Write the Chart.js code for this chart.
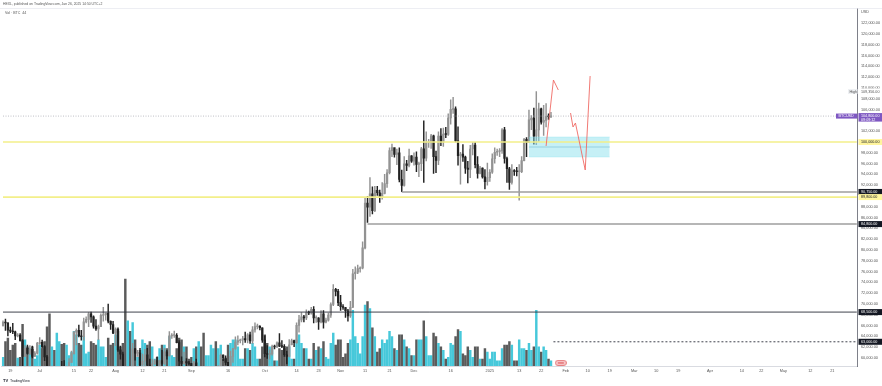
<!DOCTYPE html>
<html>
<head>
<meta charset="utf-8">
<script src="https://cdn.jsdelivr.net/npm/chart.js@4.4.0/dist/chart.umd.min.js"></script>
<style>
  html, body { margin: 0; padding: 0; background: #fff; }
</style>
</head>
<body>
<canvas id="chart" width="882" height="386"></canvas>
<script>
// ---- BTC daily, Jun 16 2024 .. Jan 26 2025 (axis runs to May 31 2025) ----
const START_DATE = '2024-06-16';
const END_DATE = '2025-05-31';
const FIRST_OPEN = 66000;

// daily closes (one line per month)
const closes = [
  66600,66500,65150,64950,64850,64100,64250,63200,60300,61800,60850,61600,60300,60900,62700,
  62900,62100,60200,57000,56600,58200,55850,56700,58000,57700,57300,57900,59200,60800,64800,65100,64100,63950,66700,67150,68200,67600,65900,65400,65800,67900,68000,68250,66800,66200,64600,
  65350,61500,60700,58100,54000,56000,55100,61700,60900,60900,58700,59400,60600,58700,57550,58900,59500,58450,59500,59000,61150,60400,64100,64200,64200,62850,59400,59000,59350,59100,58950,
  57300,59100,57450,57950,56150,53950,54150,54800,57000,57650,57350,58100,60550,60000,59200,58200,60300,61750,62950,63200,63350,63600,63350,64300,63150,65200,65800,65850,65600,63300,
  60800,60650,60750,62100,62050,62800,62200,62150,60600,60300,62450,63200,62850,66050,67050,67600,67400,68400,68350,69000,67400,67400,66700,68200,66650,67000,67950,69900,72700,72350,70250,
  69500,69350,68750,67800,69400,75600,75900,76550,76700,80400,88700,87950,90400,87300,91050,90600,89850,90500,92300,94300,98400,98950,97700,98000,93050,91950,95950,95650,97450,96450,
  97200,95850,96000,98750,97000,99900,99900,101150,97300,96600,101100,100000,101450,101400,104450,106050,106150,100200,97450,97750,97200,95150,94900,98700,99450,95800,94200,95150,93550,92650,93400,
  94400,96900,98100,98250,98350,102250,96950,95050,92500,94700,94550,94500,94500,96550,100500,99950,104100,104450,101100,102250,106150,103650,104000,104750,104700,104800
];
const highs = [
  66900,67200,66500,65700,66400,65000,64500,64500,63400,62300,62400,62300,62200,61200,62900,
  63800,63300,62300,60500,57500,58500,58400,58200,58300,59400,59500,58500,59900,61300,64900,65400,66100,65100,67400,67600,68400,68500,67800,67100,66100,68200,69400,68300,70000,66900,66800,
  65600,65600,62200,61100,58300,57000,57700,62700,61800,61400,61800,60700,61600,61800,59800,59800,59700,60200,59600,61400,61800,61400,64900,64500,65000,64500,63200,60200,61100,59900,59400,
  59000,59400,59800,58500,58300,57000,54800,55300,58100,58000,57900,58600,60700,60600,60400,59200,61300,61800,63900,64100,63500,64000,64800,64500,64800,65800,66500,66300,66000,65600,
  64100,62300,61500,62400,62400,63000,64500,63200,62500,61300,63400,63500,63300,66500,67900,68400,67900,68900,68700,69400,69500,67800,67500,68800,68800,67400,68300,70200,73600,72900,72700,
  71600,69900,69400,69000,70500,76400,76900,77200,76900,81500,89600,89950,93400,91700,91800,91800,91100,92500,94000,94900,98900,99600,98800,98700,98900,94800,97300,96600,98700,97500,
  98000,98200,96300,99000,103900,101900,100500,101400,101300,98300,101900,102500,102600,102700,105200,107800,108250,106500,102800,98100,99500,97400,96400,99400,99900,99900,97300,95500,95200,94900,96100,
  94900,97800,98900,98700,98800,102500,102700,97200,95300,95800,94900,95300,95800,97300,100700,100800,105900,104900,106300,109350,107200,106300,106800,107100,105200,105500
];
const lows = [
  65900,65100,64100,64700,64500,63400,63900,63100,58500,60300,60700,60600,60000,60300,60700,
  62500,61800,59500,56800,53500,56000,55700,54300,56300,57100,57000,56600,57800,59200,60700,62400,63900,63300,63300,66500,65800,66600,65500,65100,63400,65800,66800,67000,66500,65300,64500,
  62300,61200,59800,57200,49000,54000,54600,54800,59600,60300,58400,57700,58500,58400,56100,57100,58800,58400,57900,58600,58800,59800,60400,63600,63800,62800,58100,57900,58800,57800,58700,
  57200,57100,57400,55600,55700,52550,53700,53600,54600,56400,55500,57300,57600,59500,58700,57500,57600,59200,61600,62400,62800,62400,62900,62800,62700,62700,64800,65400,65200,62900,
  60200,59900,59800,60500,61700,61900,62100,61900,60300,58900,60200,62400,62100,62700,64800,66700,66700,67100,68000,68100,66500,66600,65300,66500,65500,66500,66800,67500,69700,71500,69700,
  68800,69000,67500,66800,67500,69300,74600,75600,75900,76500,80200,85100,86200,86700,87100,90100,88800,89400,90400,91600,94100,97300,97200,95800,92600,90800,91800,94700,95400,96200,
  95700,94500,93600,94700,92500,96500,99000,98800,94200,94300,95800,99300,99200,100800,101200,103300,105300,100000,95700,92200,96400,94200,92400,93400,97600,95200,93300,94100,93300,91300,92000,
  92700,94200,96100,97500,97300,97900,96100,92500,91200,92200,93800,93700,89250,94300,96500,97300,99900,102300,99600,99500,100100,103300,101200,102800,104200,104500
];
// volume (relative units)
const volumes = [
  10,28,32,18,24,26,9,10,48,30,22,20,22,8,12,
  24,20,28,45,60,22,18,38,28,25,26,24,12,16,40,36,26,24,34,14,16,28,26,24,30,22,22,10,32,24,26,
  36,40,22,26,100,52,40,50,30,10,18,30,26,24,28,22,8,10,20,24,24,20,34,12,10,20,32,30,22,22,8,
  10,20,22,28,22,38,12,12,24,20,28,20,24,8,8,24,26,30,30,22,8,8,20,20,18,26,22,8,8,22,
  36,26,22,20,6,6,20,18,20,22,22,8,8,30,36,26,20,20,8,8,26,18,22,20,28,10,8,26,38,24,30,
  30,10,14,26,30,64,34,26,14,34,70,74,66,44,34,16,20,30,26,30,40,34,20,18,36,36,30,22,20,12,
  12,30,30,30,52,34,12,12,38,34,26,22,18,8,10,26,24,34,42,40,14,12,22,18,10,22,22,8,8,20,16,
  8,16,16,6,6,20,24,24,28,24,6,6,30,20,20,18,26,18,22,64,22,16,22,18,8,6
];

// time axis labels
const tickDates = ['2024-06-19','2024-07-01','2024-07-15','2024-07-22','2024-08-01','2024-08-12','2024-08-21',
  '2024-09-01','2024-09-16','2024-10-01','2024-10-14','2024-10-23','2024-11-01','2024-11-11','2024-11-21',
  '2024-12-01','2024-12-16','2025-01-01','2025-01-13','2025-01-22','2025-02-01','2025-02-10','2025-02-19',
  '2025-03-01','2025-03-10','2025-03-19','2025-04-01','2025-04-14','2025-04-22','2025-05-01','2025-05-12','2025-05-21'];
const tickTexts = ['19','Jul','15','22','Aug','12','21','Sep','16','Oct','14','23','Nov','11','21',
  'Dec','16','2025','13','22','Feb','10','19','Mar','10','19','Apr','14','22','May','12','21'];

// price axis labels
const priceTicks = [60000,62000,64000,66000,68000,70000,72000,74000,76000,78000,80000,82000,84000,86000,
  88000,90000,92000,94000,96000,98000,100000,102000,104000,106000,108000,110000,112000,114000,116000,
  118000,120000,122000,124000];

// horizontal levels
const levelValues = [100000, 90750, 89800, 84800, 68500, 63000];
const levelStarts = ['2024-06-16', '2024-11-26', '2024-06-16', '2024-11-12', '2024-06-16', '2025-01-27'];
const levelColors = ['#f3ef8a', '#9e9e9e', '#f3ef8a', '#9e9e9e', '#2a2e39', '#2a2e39'];
const levelBadgeBg = ['#fff59d', '#131722', '#fff59d', '#131722', '#131722', '#131722'];
const levelBadgeFg = ['#131722', '#ffffff', '#131722', '#ffffff', '#ffffff', '#ffffff'];
const lastPrice = 104800;
const lastCountdown = '09:09:12';
const highValue = 109356;

// cyan zone
const zoneStart = '2025-01-17';
const zoneEnd = '2025-02-19';
const zoneTop = 100926;
const zoneMid = 99074;
const zoneBottom = 97222;

// red projection paths
const pathADates = ['2025-01-24', '2025-01-27', '2025-01-29'];
const pathAPrices = [99260, 111480, 109630];
const pathBDates = ['2025-02-03', '2025-02-04', '2025-02-05', '2025-02-09', '2025-02-11'];
const pathBPrices = [105370, 102780, 103520, 94815, 112220];

// event marker
const eventDate = '2025-01-30';
const eventPrice = 59100;

// price range
const Y_MIN = 58515;
const Y_MAX = 124817;

// ---------- build ----------
const labels = [];
(function () {
  const d = new Date(START_DATE + 'T00:00:00Z');
  const end = new Date(END_DATE + 'T00:00:00Z');
  while (d <= end) {
    labels.push(d.toISOString().slice(0, 10));
    d.setUTCDate(d.getUTCDate() + 1);
  }
})();

const opens = closes.map((c, i) => (i === 0 ? FIRST_OPEN : closes[i - 1]));
const isUp = closes.map((c, i) => c >= opens[i]);

const UP = '#939393', DOWN = '#222222';
const VOL_UP = 'rgba(38,190,212,0.85)', VOL_DOWN = 'rgba(50,50,50,0.8)';

const bodies = labels.map((l, i) => (i < closes.length ? [opens[i], closes[i]] : null));
const wicks = labels.map((l, i) => (i < closes.length ? [lows[i], highs[i]] : null));
const vols = labels.map((l, i) => (i < volumes.length ? volumes[i] : null));
const candleColors = labels.map((l, i) => (isUp[i] ? UP : DOWN));
const volColors = labels.map((l, i) => (isUp[i] ? VOL_UP : VOL_DOWN));

const tickMap = {};
tickDates.forEach((d, i) => { tickMap[d] = tickTexts[i]; });

function hline(from, to, value, color, width, dash, order) {
  return {
    type: 'line',
    data: [{ x: from, y: value }, { x: to, y: value }],
    borderColor: color, borderWidth: width, borderDash: dash || [],
    pointRadius: 0, fill: false, order: order, yAxisID: 'y'
  };
}

function fmt(v) {
  return v.toLocaleString('en-US', { minimumFractionDigits: 2, maximumFractionDigits: 2 });
}

// event pill marker
const pill = document.createElement('canvas');
pill.width = 12; pill.height = 6;
(function () {
  const p = pill.getContext('2d');
  p.fillStyle = '#f9c9cc';
  p.strokeStyle = '#e06666';
  p.lineWidth = 0.8;
  p.beginPath();
  p.roundRect(0.5, 0.5, 11, 5, 2.5);
  p.fill(); p.stroke();
  p.fillStyle = '#d84343';
  p.fillRect(3, 2.5, 6, 1);
})();

const datasets = [];

// levels
levelValues.forEach((v, i) => {
  const dash = i === 5 ? [2, 2] : [];
  const w = (levelColors[i] === '#f3ef8a') ? 1.6 : (levelColors[i] === '#9e9e9e' ? 1.5 : 0.9);
  datasets.push(hline(levelStarts[i], END_DATE, v, levelColors[i], w, dash, 2));
});
// last price dotted line
datasets.push(hline(START_DATE, END_DATE, lastPrice, '#a3a6af', 0.7, [1, 1.5], 2));

// zone
datasets.push({
  type: 'line',
  data: [{ x: zoneStart, y: zoneTop }, { x: zoneEnd, y: zoneTop }],
  borderColor: 'rgba(128,222,234,0.6)', borderWidth: 0.5,
  backgroundColor: 'rgba(128,222,234,0.45)', fill: '+1', pointRadius: 0, order: 3, yAxisID: 'y'
});
datasets.push({
  type: 'line',
  data: [{ x: zoneStart, y: zoneBottom }, { x: zoneEnd, y: zoneBottom }],
  borderColor: 'rgba(128,222,234,0.6)', borderWidth: 0.5, fill: false, pointRadius: 0, order: 3, yAxisID: 'y'
});
datasets.push(hline(zoneStart, zoneEnd, zoneMid, 'rgba(70,130,170,0.8)', 0.6, [], 3));

// projections
datasets.push({
  type: 'line',
  data: pathADates.map((d, i) => ({ x: d, y: pathAPrices[i] })),
  borderColor: '#ef6a64', borderWidth: 0.9, pointRadius: 0, fill: false, order: 1, yAxisID: 'y'
});
datasets.push({
  type: 'line',
  data: pathBDates.map((d, i) => ({ x: d, y: pathBPrices[i] })),
  borderColor: '#ef6a64', borderWidth: 0.9, pointRadius: 0, fill: false, order: 1, yAxisID: 'y'
});

// event marker
datasets.push({
  type: 'line',
  data: [{ x: eventDate, y: eventPrice }],
  showLine: false, pointStyle: pill, pointRadius: 5, order: 0, yAxisID: 'y'
});

// candles
datasets.push({
  type: 'bar', data: wicks, backgroundColor: candleColors, barThickness: 0.8,
  grouped: false, borderWidth: 0, minBarLength: 0.5, order: 5, yAxisID: 'y'
});
datasets.push({
  type: 'bar', data: bodies, backgroundColor: candleColors, barThickness: 1.6,
  grouped: false, borderWidth: 0, minBarLength: 0.8, order: 5, yAxisID: 'y'
});

// volume
datasets.push({
  type: 'bar', data: vols, backgroundColor: volColors, barThickness: 1.8,
  grouped: false, borderWidth: 0, order: 10, yAxisID: 'yv'
});

// ---------- texts & price badges ----------
const tvText = {
  id: 'tvText',
  afterDraw(chart) {
    const { ctx, chartArea, scales } = chart;
    const y = scales.y;
    const right = chartArea.right;
    ctx.save();

    // pane frame top
    ctx.strokeStyle = '#e0e3eb';
    ctx.lineWidth = 0.6;
    ctx.beginPath();
    ctx.moveTo(0, chartArea.top + 0.5);
    ctx.lineTo(882, chartArea.top + 0.5);
    ctx.stroke();

    ctx.textBaseline = 'middle';
    ctx.fillStyle = '#555';
    ctx.font = '3.4px Arial';
    ctx.fillText('HEXL, published on TradingView.com, Jan 26, 2025 14:50 UTC+2', 3, 4);
    ctx.font = '3.6px Arial';
    ctx.fillText('Vol · BTC  44', 5, 12.5);

    // footer logo
    ctx.fillStyle = '#131722';
    ctx.font = 'bold 4px Arial';
    ctx.fillText('TV', 3, 381);
    ctx.font = '3.6px Arial';
    ctx.fillText('TradingView', 10, 381);

    function badge(v, bg, fg, txt, h) {
      const py = y.getPixelForValue(v);
      h = h || 6;
      ctx.fillStyle = bg;
      ctx.fillRect(right + 0.5, py - 3, 23.5, h);
      ctx.fillStyle = fg;
      ctx.font = '3.7px Arial';
      ctx.fillText(txt, right + 3, py);
      return py;
    }

    levelValues.forEach((v, i) => badge(v, levelBadgeBg[i], levelBadgeFg[i], fmt(v)));

    // high marker
    const hy = badge(highValue, '#ffffff', '#555', fmt(highValue));
    ctx.fillStyle = '#eef0f3';
    ctx.fillRect(right - 10, hy - 2.5, 9.5, 5);
    ctx.fillStyle = '#555';
    ctx.fillText('High', right - 8.5, hy);

    // last price (two lines)
    const ly = badge(lastPrice, '#7e57c2', '#ffffff', fmt(lastPrice), 8.5);
    ctx.fillText(lastCountdown, right + 3, ly + 4);
    ctx.fillStyle = '#7e57c2';
    ctx.fillRect(right - 22, ly - 2.5, 21.5, 5);
    ctx.fillStyle = '#ffffff';
    ctx.fillText('BTCUSD', right - 19.5, ly);

    ctx.restore();
  }
};

new Chart(document.getElementById('chart'), {
  data: { labels: labels, datasets: datasets },
  options: {
    responsive: false,
    animation: false,
    devicePixelRatio: 1,
    layout: { autoPadding: false, padding: { top: 8, bottom: 8, left: 0, right: 0 } },
    plugins: { legend: { display: false }, tooltip: { enabled: false } },
    scales: {
      x: {
        type: 'category',
        offset: true,
        grid: { display: false, drawTicks: false },
        border: { display: true, color: '#cfd2d9', width: 0.8 },
        ticks: {
          autoSkip: false, maxRotation: 0, minRotation: 0, padding: 3,
          color: '#555', font: { size: 3.8, family: 'Arial' },
          callback(value) {
            const l = this.getLabelForValue(value);
            return tickMap[l] || '';
          }
        },
        afterFit(scale) { scale.height = 12; }
      },
      y: {
        position: 'right',
        min: Y_MIN, max: Y_MAX,
        grid: { display: false, drawTicks: false },
        border: { display: true, color: '#5d606b', width: 0.8 },
        ticks: {
          autoSkip: false, padding: 3, color: '#555', font: { size: 3.8, family: 'Arial' },
          callback(v) { return v === 124000 ? 'USD' : fmt(v); }
        },
        afterBuildTicks(scale) { scale.ticks = priceTicks.map(v => ({ value: v })); },
        afterFit(scale) { scale.width = 24; }
      },
      yv: { display: false, min: 0, max: 412 }
    }
  },
  plugins: [tvText]
});
</script>
</body>
</html>
